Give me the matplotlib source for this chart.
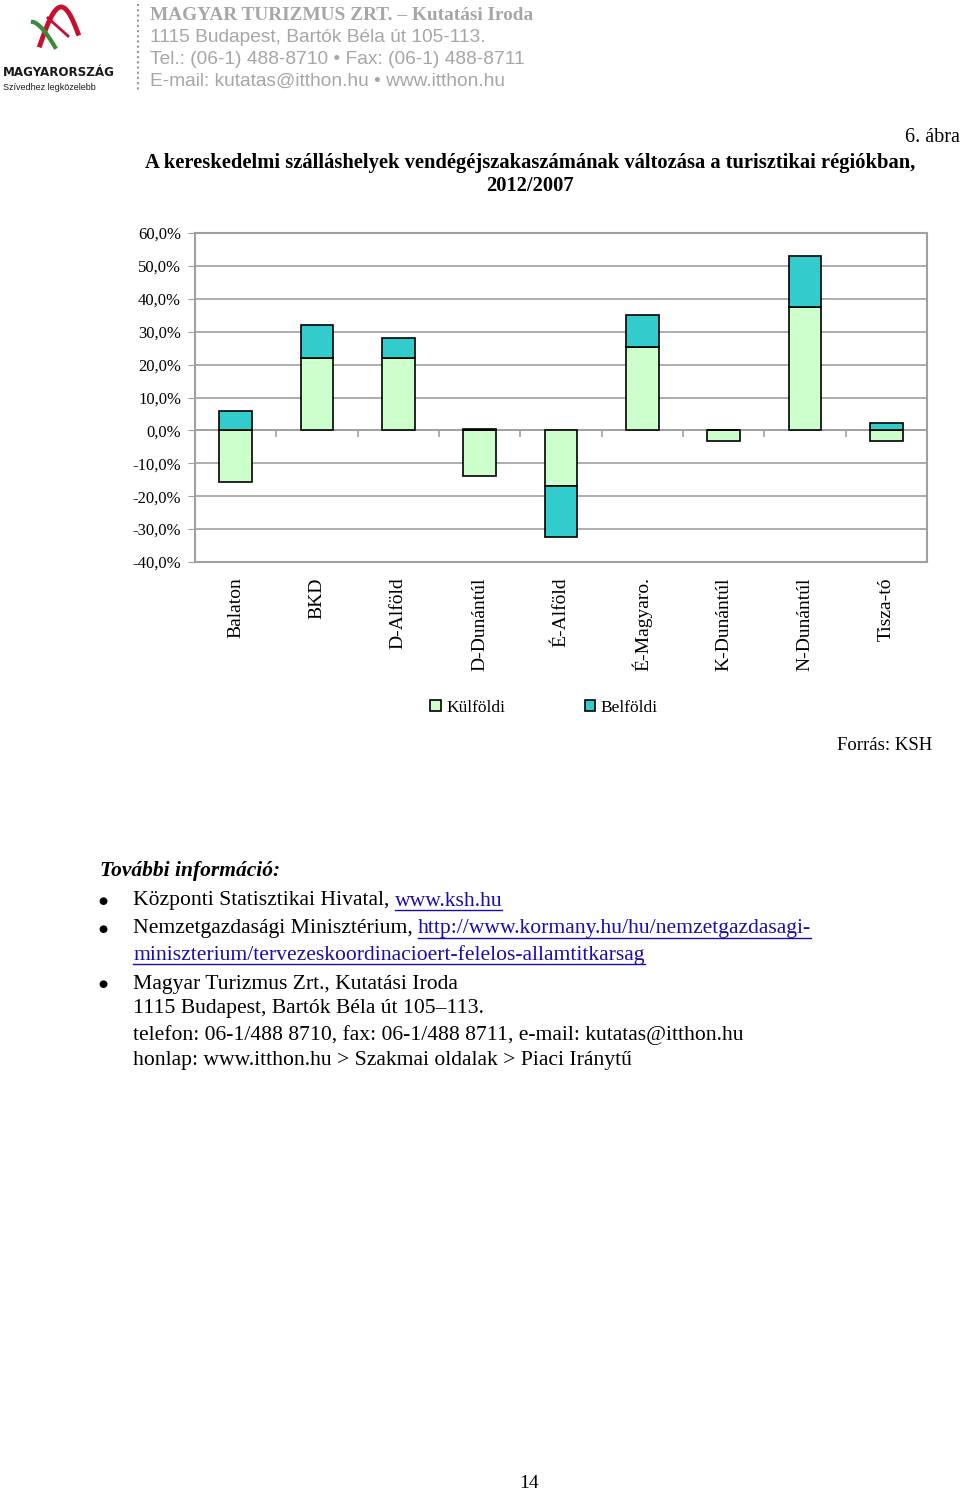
import numpy as np
import matplotlib
matplotlib.use("Agg")
import matplotlib.pyplot as plt

# adatok (leolvasva az ábráról)
regiok = ["Balaton", "BKD", "D-Alföld", "D-Dunántúl", "É-Alföld",
          "É-Magyaro.", "K-Dunántúl", "N-Dunántúl", "Tisza-tó"]
kulfoldi = [-15.6, 21.9, 21.9, -13.9, -16.8, 25.4, -3.2, 37.4, -3.2]
belfoldi = [5.8, 10.1, 6.1, 0.4, -15.6, 9.8, 0.0, 15.7, 2.1]
y_ticks = [-40, -30, -20, -10, 0, 10, 20, 30, 40, 50, 60]

W, H = 960, 1493
SERIF = ["Liberation Serif", "DejaVu Serif"]
SANS = ["Liberation Sans", "DejaVu Sans"]
C_KUL = "#CCFFCC"
C_BEL = "#33CCCC"


def fx(x):
    return x / W


def fy(y):
    return 1 - y / H


fig = plt.figure(figsize=(W / 100, H / 100), dpi=100)

# --- fejléc ---
fig.text(fx(150), fy(15), "MAGYAR TURIZMUS ZRT. – Kutatási Iroda", family=SERIF,
         weight="bold", fontsize=13.9, color="#a6a6a6", va="center")
fejlec = ["1115 Budapest, Bartók Béla út 105-113.",
          "Tel.: (06-1) 488-8710 • Fax: (06-1) 488-8711",
          "E-mail: kutatas@itthon.hu • www.itthon.hu"]
for i, sor in enumerate(fejlec):
    fig.text(fx(150), fy(37 + 22 * i), sor, family=SANS, fontsize=13.8,
             color="#a6a6a6", va="center")
fig.add_artist(plt.Line2D([fx(138), fx(138)], [fy(4), fy(92)], color="#999999",
                          lw=1.5, ls=(0, (1, 1.5))))

# logo (egyszerűsített)
t = np.linspace(0, 1, 60)
fig.add_artist(plt.Line2D(fx(40 + 38 * t), fy(45 - 38 * np.sin(np.pi * t * 0.9)),
                          color="#c8102e", lw=3.5))
fig.add_artist(plt.Line2D(fx(33 + 22 * t), fy(22 + 25 * t ** 1.5), color="#3a8a3a", lw=3))
fig.add_artist(plt.Line2D(fx(48 + 20 * t), fy(18 + 18 * t), color="#c8102e", lw=2))
fig.text(fx(3), fy(72), "MAGYARORSZÁG", family="DejaVu Sans", stretch="condensed",
         weight="bold", fontsize=9.5, color="#1a1a1a", va="center")
fig.text(fx(3), fy(87), "Szívedhez legközelebb", family=SANS, fontsize=6.5,
         color="#1a1a1a", va="center")

# --- cím ---
fig.text(fx(960), fy(138), "6. ábra", family=SERIF, fontsize=14.5, ha="right", va="center")
fig.text(fx(530), fy(163),
         "A kereskedelmi szálláshelyek vendégéjszakaszámának változása a turisztikai régiókban,",
         family=SERIF, weight="bold", fontsize=14.8, ha="center", va="center")
fig.text(fx(530), fy(186), "2012/2007", family=SERIF, weight="bold", fontsize=14.8,
         ha="center", va="center")

# --- diagram ---
ax = fig.add_axes([fx(195), fy(562), (927 - 195) / W, (562 - 233) / H])
x = np.arange(len(regiok))
kul = np.array(kulfoldi)
bel = np.array(belfoldi)
alap = np.where(np.sign(kul) == np.sign(bel), kul, 0)

ax.bar(x, kul, width=0.4, color=C_KUL, edgecolor="black", lw=1.2, zorder=3, label="Külföldi")
ax.bar(x, bel, bottom=alap, width=0.4, color=C_BEL, edgecolor="black", lw=1.2, zorder=3,
       label="Belföldi")

ax.set_xlim(-0.5, len(regiok) - 0.5)
ax.set_ylim(-40, 60)
ax.set_yticks(y_ticks)
ax.set_yticklabels([f"{v},0%" for v in y_ticks], family=SERIF, fontsize=12)
ax.yaxis.grid(True, color="#a0a0a0", lw=1.2, zorder=0)
ax.axhline(0, color="#a0a0a0", lw=1.2, zorder=2)
ax.vlines(np.arange(0.5, len(regiok) - 0.5), -1.9, 0, color="#a0a0a0", lw=1.2, zorder=2)
for s in ax.spines.values():
    s.set_color("#a0a0a0")
    s.set_linewidth(1.5)
ax.tick_params(axis="y", length=5, color="#a0a0a0", pad=5)
ax.set_xticks(x)
ax.set_xticklabels(regiok, rotation=90, family=SERIF, fontsize=14, va="top")
ax.tick_params(axis="x", length=0, pad=11)

h, l = ax.get_legend_handles_labels()
fig.legend(h, l, loc="center", bbox_to_anchor=(fx(544), fy(708)), ncol=2, frameon=False,
           prop={"family": SERIF, "size": 12.5}, handlelength=0.6, handleheight=0.6,
           handletextpad=0.3, columnspacing=4.6)

fig.text(fx(932), fy(745), "Forrás: KSH", family=SERIF, fontsize=13.5, ha="right", va="center")

# --- további információ ---
fig.text(fx(100), fy(871), "További információ:", family=SERIF, weight="bold",
         style="italic", fontsize=15.5, va="center")
link = "#1a0dab"
sorok = [
    (901, True, [("Központi Statisztikai Hivatal, ", None), ("www.ksh.hu", link)]),
    (929, True, [("Nemzetgazdasági Minisztérium, ", None),
                 ("http://www.kormany.hu/hu/nemzetgazdasagi-", link)]),
    (955, False, [("miniszterium/tervezeskoordinacioert-felelos-allamtitkarsag", link)]),
    (984, True, [("Magyar Turizmus Zrt., Kutatási Iroda", None)]),
    (1009, False, [("1115 Budapest, Bartók Béla út 105–113.", None)]),
    (1035, False, [("telefon: 06-1/488 8710, fax: 06-1/488 8711, e-mail: kutatas@itthon.hu", None)]),
    (1061, False, [("honlap: www.itthon.hu > Szakmai oldalak > Piaci Iránytű", None)]),
]
fig.canvas.draw()
r = fig.canvas.get_renderer()
for yy, golyo, darabok in sorok:
    if golyo:
        fig.text(fx(103), fy(yy), "●", family="DejaVu Sans", fontsize=7.5, ha="center",
                 va="center")
    xx = 133
    for szoveg, szin in darabok:
        tt = fig.text(fx(xx), fy(yy), szoveg, family=SERIF, fontsize=15.6, va="center",
                      color=szin if szin else "black")
        bb = tt.get_window_extent(r)
        if szin:
            fig.add_artist(plt.Line2D([fx(xx), fx(xx + bb.width)], [fy(yy + 9), fy(yy + 9)],
                                      color=szin, lw=1))
        xx += bb.width

fig.text(fx(529), fy(1483), "14", family=SERIF, fontsize=14, ha="center", va="center")

fig.savefig("out.png", dpi=100)
